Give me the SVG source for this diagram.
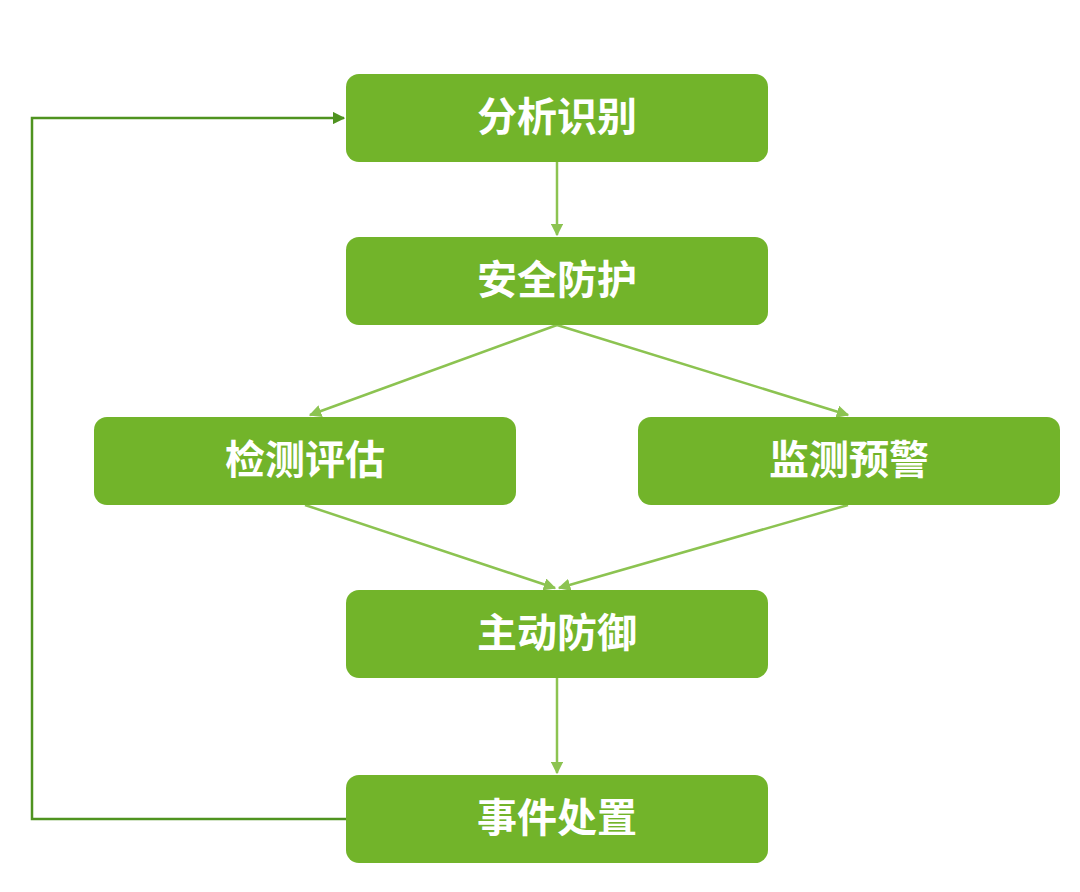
<svg xmlns="http://www.w3.org/2000/svg" width="1080" height="892" viewBox="0 0 1080 892">
<style>
.box{fill:#72b42a;}
.lbl{fill:#ffffff;font-family:"Noto Sans CJK SC","Noto Sans",sans-serif;font-weight:bold;font-size:40px;text-anchor:middle;dominant-baseline:central;}
.arr{stroke:#8cc351;stroke-width:2.5;fill:none;marker-end:url(#ah);}
.loop{stroke:#4f9320;stroke-width:2.5;fill:none;}
</style>
<defs>
<marker id="ah" viewBox="0 0 10 10" refX="9" refY="5" markerWidth="5" markerHeight="5" orient="auto" markerUnits="strokeWidth">
<path d="M0,0 L10,5 L0,10 Z" fill="#8cc351"/>
</marker>
<marker id="ah2" viewBox="0 0 10 10" refX="9" refY="5" markerWidth="5" markerHeight="5" orient="auto" markerUnits="strokeWidth">
<path d="M0,0 L10,5 L0,10 Z" fill="#4f9320"/>
</marker>
</defs>
<rect width="1080" height="892" fill="#ffffff"/>
<g id="connectors">
<path class="arr" d="M557,162 L557,235"/>
<path class="arr" d="M557,325 L310,415"/>
<path class="arr" d="M557,325 L848,415"/>
<path class="arr" d="M305,505 L555,588"/>
<path class="arr" d="M848,505 L559,588"/>
<path class="arr" d="M557,678 L557,773"/>
<path class="loop" d="M346,819 L32,819 L32,118 L344,118" marker-end="url(#ah2)"/>
</g>
<g id="n1"><rect class="box" x="346" y="74" width="422" height="88" rx="13"/><text class="lbl" x="557" y="114">分析识别</text></g>
<g id="n2"><rect class="box" x="346" y="237" width="422" height="88" rx="13"/><text class="lbl" x="557" y="277">安全防护</text></g>
<g id="n3"><rect class="box" x="94" y="417" width="422" height="88" rx="13"/><text class="lbl" x="305" y="457">检测评估</text></g>
<g id="n4"><rect class="box" x="638" y="417" width="422" height="88" rx="13"/><text class="lbl" x="849" y="457">监测预警</text></g>
<g id="n5"><rect class="box" x="346" y="590" width="422" height="88" rx="13"/><text class="lbl" x="557" y="630">主动防御</text></g>
<g id="n6"><rect class="box" x="346" y="775" width="422" height="88" rx="13"/><text class="lbl" x="557" y="815">事件处置</text></g>
</svg>
